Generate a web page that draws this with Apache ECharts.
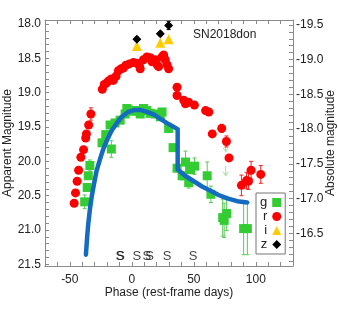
<!DOCTYPE html>
<html><head><meta charset="utf-8">
<script src="https://cdn.jsdelivr.net/npm/echarts@6/dist/echarts.min.js"></script>
<style>html,body{margin:0;padding:0;background:#fff}#c{width:338px;height:315px}</style>
</head><body><div id="c"></div>
<script>
// g band (green squares)
const gPhase=[-38.0,-36.0,-35.1,-33.8,-24.0,-21.0,-17.5,-16.5,-13.5,-9.4,-5.4,-4.0,-2.7,0.0,4.1,6.8,9.4,12.2,14.9,18.9,23.0,24.4,29.7,33.3,36.5,40.6,43.3,45.9,47.3,50.6,60.8,63.8,73.3,74.5,76.5,90.2,93.2];
const gMag=[20.59,20.38,20.21,20.06,19.73,19.61,19.47,19.82,19.44,19.40,19.31,19.23,19.25,19.27,19.26,19.31,19.23,19.26,19.30,19.31,19.35,19.28,19.52,19.80,20.10,20.21,20.01,20.31,20.12,20.07,20.21,20.48,20.82,20.86,20.76,20.98,20.98];
const gErr=[0.10,0.05,0.04,0.08,0.04,0.03,0.03,0.12,0.03,0.03,0.03,0.03,0.02,0.02,0.02,0.02,0.02,0.02,0.02,0.02,0.03,0.03,0.06,0.05,0.05,0.06,0.16,0.08,0.06,0.12,0.20,0.12,0.27,0.25,0.25,0.38,0.38];
// g band upper limits
const gLimPhase=[75.7,75.7];
const gLimMag=[19.72,20.07];
// r band (red circles)
const rPhase=[-46.5,-45.4,-44.1,-42.9,-41.1,-38.9,-37.2,-36.6,-34.8,-33.0,-23.8,-22.2,-20.5,-18.9,-16.5,-14.9,-12.7,-10.8,-8.6,-6.8,-4.8,-2.0,1.3,4.1,6.0,6.8,9.4,12.2,14.9,16.3,18.9,20.3,21.6,24.3,25.7,27.0,28.4,29.7,36.5,36.5,41.9,43.3,45.9,50.5,59.5,62.1,64.9,72.5,76.3,78.4,88.4,92.5,94.1,96.2,104.0];
const rMag=[20.61,20.46,20.29,20.13,19.94,19.83,19.66,19.60,19.47,19.31,18.95,18.88,18.86,18.83,18.80,18.82,18.76,18.68,18.65,18.64,18.60,18.58,18.56,18.57,18.60,18.65,18.52,18.48,18.49,18.55,18.52,18.59,18.62,18.48,18.45,18.52,18.59,18.65,18.92,19.04,19.11,19.16,19.14,19.18,19.26,19.28,19.60,19.52,19.71,19.95,20.35,20.28,20.29,20.13,20.19];
const rErr=[0,0,0,0,0,0,0,0,0.03,0.09,0,0,0,0,0,0,0,0,0,0,0,0,0,0,0,0,0,0,0,0,0,0,0,0,0,0,0,0,0,0,0,0,0,0,0,0,0.03,0.06,0.08,0.05,0.15,0.12,0.12,0.13,0.13];
// i band (yellow triangles)
const iPhase=[4.1,23.0,29.7];
const iMag=[18.32,18.27,18.22];
// z band (black diamonds)
const zPhase=[4.1,23.0,29.7];
const zMag=[18.22,18.14,18.02];
const zErr=[0.03,0.03,0.06];
// model (blue line)
const mPhase=[-37.0,-36.0,-35.1,-33.8,-32.4,-30.5,-28.3,-25.5,-23.0,-19.5,-16.2,-12.0,-8.1,-3.0,2.6,7.0,12.2,18.0,23.0,30.0,37.0,37.0,43.0,50.0,57.0,63.5,70.0,77.0,85.0,93.0];
const mMag=[21.36,21.10,20.91,20.70,20.52,20.33,20.13,19.96,19.82,19.67,19.55,19.44,19.35,19.28,19.25,19.25,19.28,19.32,19.38,19.46,19.53,20.12,20.21,20.29,20.37,20.43,20.49,20.54,20.58,20.60];
// spectra epochs
const sPhase=[-9.6,-9.0,4.1,12.2,14.3,28.4,49.5];
const sMag=[21.38,21.38,21.38,21.38,21.38,21.38,21.38];
// tick labels
const xLabels=[-50,0,50,100];
const yLabels=[18.0,18.5,19.0,19.5,20.0,20.5,21.0,21.5];
const y2Labels=[-19.5,-19.0,-18.5,-18.0,-17.5,-17.0,-16.5];

const FONT='"Liberation Sans", Arial, sans-serif';
const AX='#8a8a8a';
const yMinor=[];for(let v=180;v<=215;v++)yMinor.push(v/10);
const y2Minor=[];for(let v=-195;v<=-161;v++)y2Minor.push(v/10);

function errSeries(name,xs,ys,es,color){
  return {type:'custom',name:name,silent:true,z:2,encode:{x:0,y:1},
    data:xs.map((x,i)=>[x,ys[i],es[i]]).filter(d=>d[2]>0),
    renderItem:function(p,api){
      const x=api.value(0),y=api.value(1),e=api.value(2);
      const a=api.coord([x,y-e]),b=api.coord([x,y+e]);const c=2;
      const st={stroke:color,lineWidth:1};
      return {type:'group',children:[
        {type:'line',shape:{x1:a[0],y1:a[1],x2:b[0],y2:b[1]},style:st},
        {type:'line',shape:{x1:a[0]-c,y1:a[1],x2:a[0]+c,y2:a[1]},style:st},
        {type:'line',shape:{x1:b[0]-c,y1:b[1],x2:b[0]+c,y2:b[1]},style:st}]};
    }};
}
const pair=(xs,ys)=>xs.map((x,i)=>[x,ys[i]]);

const chart=echarts.init(document.getElementById('c'),null,{renderer:'canvas'});
chart.setOption({
  animation:false,
  textStyle:{fontFamily:FONT},
  title:{text:'SN2018don',left:193,top:29,padding:0,textStyle:{fontSize:12,fontWeight:'normal',color:'#222',fontFamily:FONT}},
  grid:{left:45,right:45,top:20,bottom:49,containLabel:false,outerBoundsMode:'none'},
  legend:{orient:'vertical',left:256,top:193,align:'right',itemWidth:9,itemHeight:9,itemGap:1,padding:[3,4,3,4],
    borderColor:'#777',borderWidth:1,backgroundColor:'#fff',selectedMode:false,
    textStyle:{fontSize:13,color:'#222',fontFamily:FONT,width:8},
    data:[{name:'g',icon:'rect'},{name:'r',icon:'circle'},{name:'i',icon:'triangle'},{name:'z',icon:'diamond'}]},
  xAxis:[
    {type:'value',position:'bottom',min:-70,max:130,interval:10,
     axisLine:{show:true,onZero:false,lineStyle:{color:AX}},
     axisTick:{show:true,inside:true,length:4,lineStyle:{color:AX}},
     axisLabel:{color:'#222',fontSize:12,margin:8,formatter:v=>xLabels.indexOf(v)>=0?String(v):''},
     splitLine:{show:false},
     name:'Phase (rest-frame days)',nameLocation:'middle',nameGap:21,nameMoveOverlap:false,nameTextStyle:{fontSize:12,color:'#222'}},
    {type:'value',position:'top',min:-70,max:130,interval:10,
     axisLine:{show:true,onZero:false,lineStyle:{color:AX}},
     axisTick:{show:true,inside:true,length:4,lineStyle:{color:AX}},
     axisLabel:{show:false},splitLine:{show:false}}
  ],
  yAxis:[
    {type:'value',position:'left',inverse:true,min:17.94,max:21.525,
     axisLine:{show:true,onZero:false,lineStyle:{color:AX}},
     axisTick:{show:true,inside:true,length:4,lineStyle:{color:AX},customValues:yMinor},
     axisLabel:{color:'#222',fontSize:12,margin:4,customValues:yLabels,formatter:v=>Number(v).toFixed(1)},
     splitLine:{show:false},
     name:'Apparent Magnitude',nameLocation:'middle',nameRotate:90,nameGap:31,nameMoveOverlap:false,nameTextStyle:{fontSize:12,color:'#222'}},
    {type:'value',position:'right',inverse:true,min:-19.57,max:-16.03,
     axisLine:{show:true,onZero:false,lineStyle:{color:AX}},
     axisTick:{show:true,inside:true,length:4,lineStyle:{color:AX},customValues:y2Minor},
     axisLabel:{color:'#222',fontSize:12,margin:3,customValues:y2Labels,formatter:v=>Number(v).toFixed(1)},
     splitLine:{show:false},
     name:'Absolute magnitude',nameLocation:'middle',nameRotate:90,nameGap:32,nameMoveOverlap:false,nameTextStyle:{fontSize:12,color:'#222'}}
  ],
  series:[
    errSeries('gErr',gPhase,gMag,gErr,'#55cc55'),
    {type:'custom',name:'gLim',silent:true,z:2,encode:{x:0,y:1},data:pair(gLimPhase,gLimMag),
     renderItem:function(p,api){
       const a=api.coord([api.value(0),api.value(1)]),b=api.coord([api.value(0),api.value(1)+0.14]);
       const st={stroke:'#9be39b',lineWidth:1,fill:null};
       return {type:'group',children:[
         {type:'line',shape:{x1:a[0],y1:a[1],x2:b[0],y2:b[1]},style:st},
         {type:'polyline',shape:{points:[[b[0]-2.5,b[1]-4],[b[0],b[1]],[b[0]+2.5,b[1]-4]]},style:st}]};
     }},
    {type:'scatter',name:'g',symbol:'rect',symbolSize:9,z:3,itemStyle:{color:'#33cc33',opacity:1},data:pair(gPhase,gMag)},
    errSeries('rErr',rPhase,rMag,rErr,'#ff2020'),
    {type:'scatter',name:'r',symbol:'circle',symbolSize:9,z:4,itemStyle:{color:'#ff0000',opacity:1},data:pair(rPhase,rMag)},
    {type:'scatter',name:'i',symbol:'triangle',symbolSize:10,z:4,itemStyle:{color:'#ffcc00',opacity:1},data:pair(iPhase,iMag)},
    errSeries('zErr',zPhase,zMag,zErr,'#000'),
    {type:'scatter',name:'z',symbol:'diamond',symbolSize:9,z:5,itemStyle:{color:'#000',opacity:1},data:pair(zPhase,zMag)},
    {type:'line',name:'model',showSymbol:false,symbol:'none',z:6,lineStyle:{color:'#156bbf',width:4.5,cap:'round',join:'round'},data:pair(mPhase,mMag)},
    {type:'scatter',name:'spec',symbolSize:0,z:7,silent:true,data:pair(sPhase,sMag),
     labelLayout:{hideOverlap:false},
     label:{show:true,position:'inside',formatter:'S',fontSize:13,color:'#111',fontFamily:FONT}}
  ]
});
</script></body></html>
